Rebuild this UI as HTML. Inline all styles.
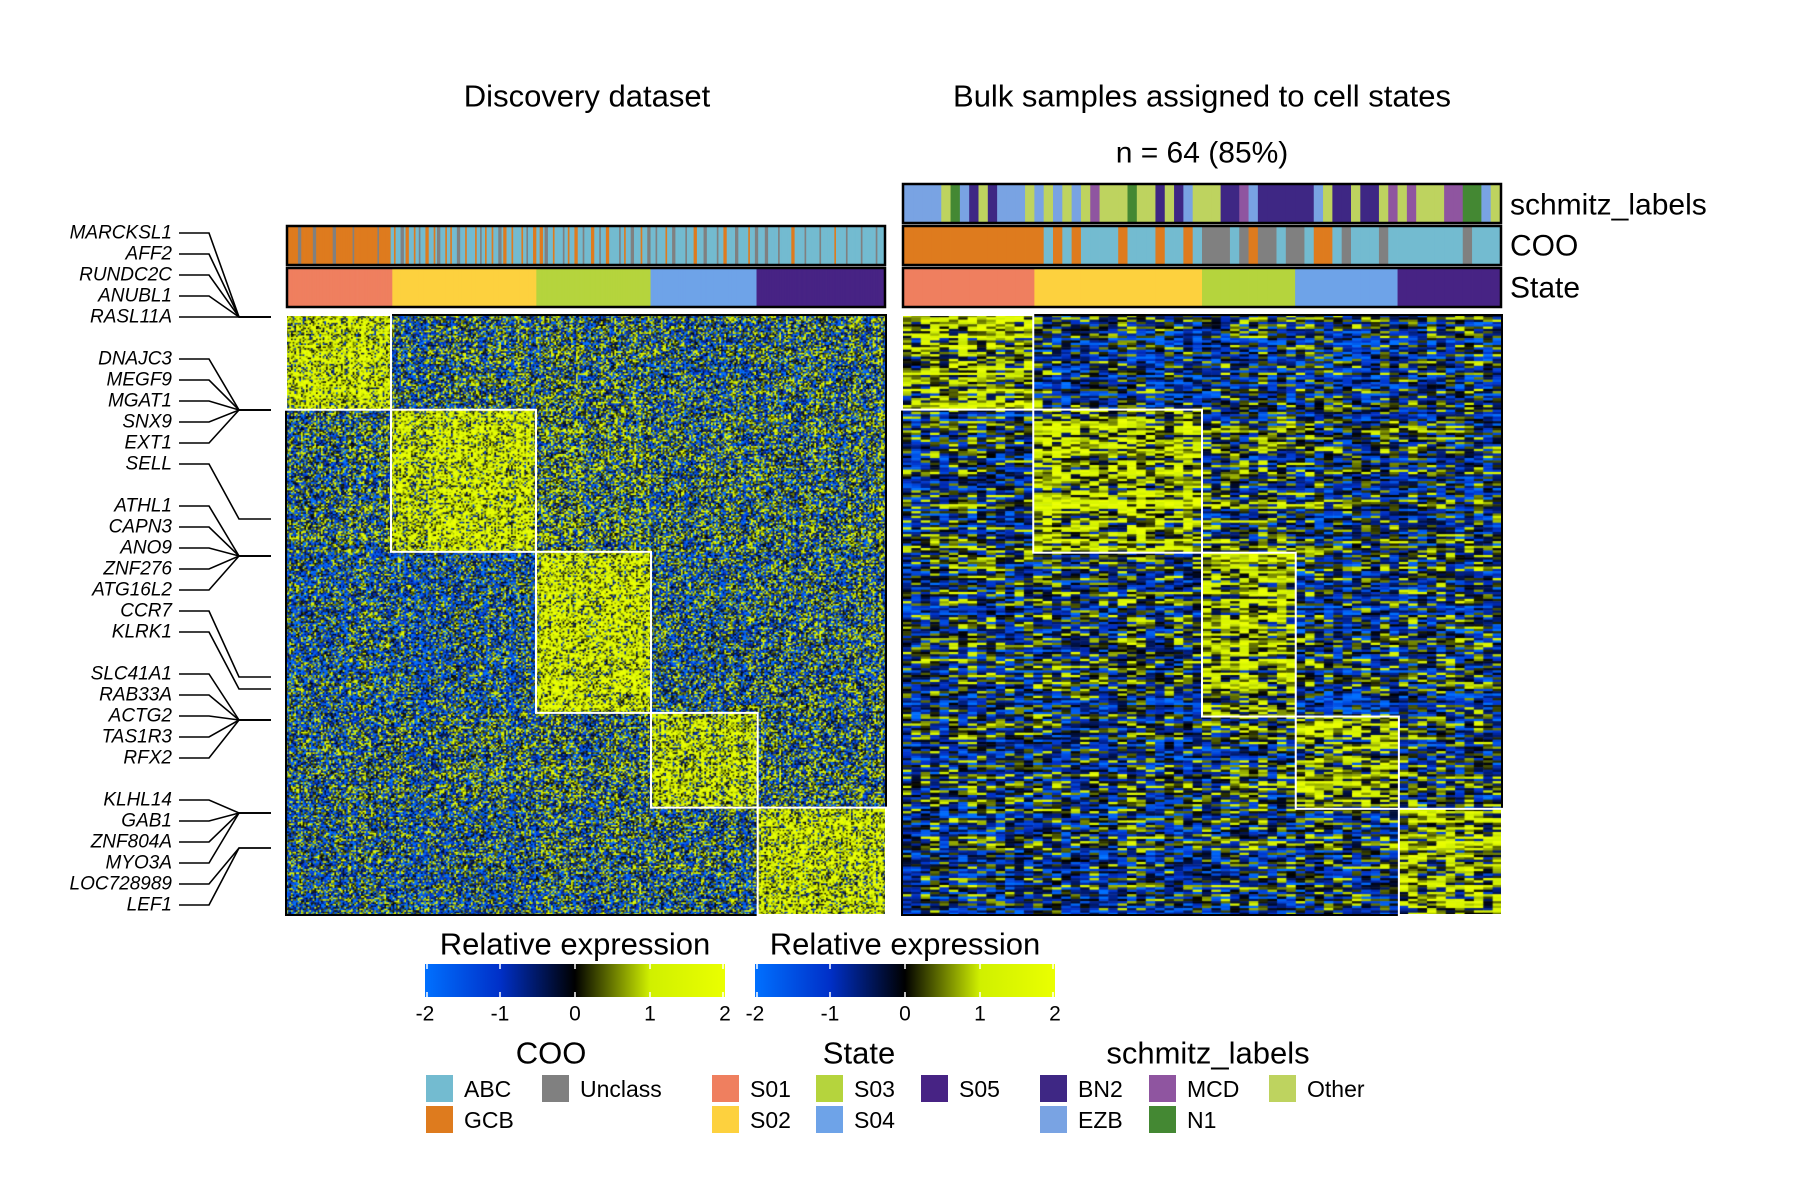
<!DOCTYPE html>
<html><head><meta charset="utf-8">
<style>
html,body{margin:0;padding:0;background:#fff;}
#root{position:relative;width:1800px;height:1200px;overflow:hidden;font-family:"Liberation Sans",sans-serif;}
canvas{position:absolute;}
svg{position:absolute;left:0;top:0;}
</style></head>
<body>
<div id="root">
<canvas id="hmL" style="left:286px;top:315px" width="600" height="600"></canvas>
<canvas id="hmR" style="left:902px;top:315px" width="600" height="600"></canvas>
<svg id="ov" width="1800" height="1200"></svg>
</div>
<script>
// ---------- data ----------
const stateNames = ['S01','S02','S03','S04','S05'];
const stateColors = ['#ef7f5f','#fdd13e','#b5d43d','#6ea3e8','#472384'];
const cooColors = {A:'#73bbd0',G:'#de7b1e',U:'#808080'};
const schColors = {B:'#3e2784',E:'#79a3e3',M:'#8f55a0',N:'#448833',O:'#bed35f'};
// left (discovery)
const leftStateCounts = [63,87,69,64,77];
const leftRowCounts = [60,90,102,60,68];
const leftCOO = 'GGGGUGGGGGUGGGGGGGUGGGGGGGUGGGGGGGGGUGGGGG'+
 'AGAAUAGAAGAUAAGAAGAUAAGAGAAUAAGAAAGAUAGAAGAAUAGAAGAAAGAUAAG'+
 'AAGAUAAGAAAUAGAAGAAUAAAGAAUAAGAAAAUAGAAUAAAGAAU'+
 'AAUAAAGAAUAAAAUAAAGAAAUAAAAUAAGAAAAUAAAAGAAUA'+
 'AAUAAAAUAAAAAGAAAAUAAAAAUAAAAAGAAAAUAAAAAUAAAAAUAAA';
const leftMeans = [
 [1.3,-0.3,-0.2,-0.4,-0.3],
 [-0.2,1.3,0.0,-0.2,-0.2],
 [-0.5,-0.6,1.4,-0.4,-0.3],
 [-0.3,-0.2,-0.2,1.1,-0.2],
 [-0.4,-0.5,-0.3,-0.3,1.2]];
// right (bulk)
const rightStateCounts = [14,18,10,11,11];
const rightRowCounts = [41,62,71,40,46];
const rightCOO = 'GGGGGGGGGGGGGGGAGAGAAAAGAAAGAAGAUUUAUGUUAUUAGGAUAAAUAAAAAAAAUAAA';
const rightSchmitz = 'EEEEONEBOBEEEOEOEOEOMOOONOOBOBEOOOBBMEBBBBBBEOBBOBBOMOMOOOMMNNEO';
const rightMeans = [
 [0.7,-0.5,-0.4,-0.5,-0.4],
 [-0.4,0.7,-0.1,-0.4,-0.4],
 [-0.4,-0.3,0.7,-0.5,-0.4],
 [-0.3,-0.4,-0.2,0.6,-0.3],
 [-0.4,-0.4,-0.3,-0.3,0.7]];
const genes = ['MARCKSL1','AFF2','RUNDC2C','ANUBL1','RASL11A','DNAJC3','MEGF9','MGAT1','SNX9','EXT1','SELL','ATHL1','CAPN3','ANO9','ZNF276','ATG16L2','CCR7','KLRK1','SLC41A1','RAB33A','ACTG2','TAS1R3','RFX2','KLHL14','GAB1','ZNF804A','MYO3A','LOC728989','LEF1'];
const geneSlots = [0,1,2,3,4,6,7,8,9,10,11,13,14,15,16,17,18,19,21,22,23,24,25,27,28,29,30,31,32];
const geneTargets = [317,317,317,317,317,410,410,410,410,410,519,556,556,556,556,556,677,689,720,720,720,720,720,813,813,813,813,848,848];
const colorTicks = [-2,-1,0,1,2];

// ---------- helpers ----------
const NS='http://www.w3.org/2000/svg';
const ov=document.getElementById('ov');
function mk(tag,attrs,parent){const e=document.createElementNS(NS,tag);for(const k in attrs)e.setAttribute(k,attrs[k]);(parent||ov).appendChild(e);return e;}
const stops=[[-2,[0,112,255]],[-1,[0,48,200]],[0,[0,0,0]],[1,[208,240,0]],[2,[234,255,0]]];
function cmap(v){v=Math.max(-2,Math.min(2,v));for(let i=0;i<4;i++){const a=stops[i],b=stops[i+1];if(v<=b[0]){const t=(v-a[0]);return 'rgb('+a[1].map((c,j)=>Math.round(c+(b[1][j]-c)*t)).join(',')+')';}}return 'rgb(234,255,0)';}
function h(a,b,s){let x=(a*374761393+b*668265263+s*982451653)|0;x=(x^(x>>>13))*1274126177|0;x=x^(x>>>16);return ((x>>>0)%10000)/10000;}
function expand(counts){const r=[];counts.forEach((c,i)=>{for(let k=0;k<c;k++)r.push(i);});return r;}
function scaleBand(n,x0,x1){const w=(x1-x0)/n;return i=>x0+i*w;}

function drawHeat(id,stateCounts,rowCounts,means,seed,noise,colAmp,rowAmp){
  const cv=document.getElementById(id),ctx=cv.getContext('2d');
  const cols=expand(stateCounts),rows=expand(rowCounts);
  const nc=cols.length,nr=rows.length;
  const xs=scaleBand(nc,0,600),ys=scaleBand(nr,0,600);
  const cw=600/nc,rh=600/nr;
  for(let r=0;r<nr;r++){
    const rowEff=(h(r,7,seed)-0.5)*rowAmp;
    for(let c=0;c<nc;c++){
      const colEff=(h(c,3,seed+1)-0.5)*colAmp;
      const n=(h(r,c,seed)+h(c,r,seed+5)-1)*noise;
      const v=means[rows[r]][cols[c]]+n+colEff+rowEff;
      ctx.fillStyle=cmap(v);
      ctx.fillRect(xs(c),ys(r),cw+0.5,rh+0.5);
    }
  }
}
drawHeat('hmL',leftStateCounts,leftRowCounts,leftMeans,11,3.0,1.0,0.8);
drawHeat('hmR',rightStateCounts,rightRowCounts,rightMeans,29,2.0,0.4,1.4);

// block outlines + borders
function blocks(x0,stateCounts,rowCounts,name){
  const g=mk('g',{});
  const nc=stateCounts.reduce((a,b)=>a+b),nr=rowCounts.reduce((a,b)=>a+b);
  mk('rect',{x:x0,y:315,width:600,height:600,fill:'none',stroke:'#000','stroke-width':2},g);
  let cx=0,cy=0;
  for(let i=0;i<5;i++){
    const bx=x0+cx/nc*600,by=315+cy/nr*600,bw=stateCounts[i]/nc*600,bh=rowCounts[i]/nr*600;
    mk('rect',{x:bx,y:by,width:bw,height:bh,fill:'none',stroke:'#fff','stroke-width':2},g);
    cx+=stateCounts[i];cy+=rowCounts[i];
  }
}
blocks(286,leftStateCounts,leftRowCounts,'discovery-block-outlines');
blocks(902,rightStateCounts,rightRowCounts,'bulk-block-outlines');

// annotation bars
function annBar(x0,y0,hgt,vals,colorFn,name){
  const g=mk('g',{});
  const n=vals.length,xs=scaleBand(n,x0+2,x0+598),w=596/n;
  for(let i=0;i<n;i++)mk('rect',{x:xs(i),y:y0,width:w+0.4,height:hgt,fill:colorFn(vals[i])},g);
  mk('rect',{x:x0+1,y:y0-1,width:598,height:hgt+2,fill:'none',stroke:'#000','stroke-width':2.5},g);
}
const nL=leftStateCounts.reduce((a,b)=>a+b);
const lcoo=[];for(let i=0;i<nL;i++)lcoo.push(leftCOO[Math.floor(i*leftCOO.length/nL)]);
annBar(286,227,37,lcoo,v=>cooColors[v],'discovery-coo-bar');
annBar(286,269,37,expand(leftStateCounts),v=>stateColors[v],'discovery-state-bar');
annBar(902,185,37,rightSchmitz.split(''),v=>schColors[v],'bulk-schmitz-bar');
annBar(902,227,37,rightCOO.split(''),v=>cooColors[v],'bulk-coo-bar');
annBar(902,269,37,expand(rightStateCounts),v=>stateColors[v],'bulk-state-bar');

function txt(x,y,s,size,anchor,name,extra){const t=mk('text',Object.assign({x:x,y:y,'font-size':size,'text-anchor':anchor||'start','font-family':'Liberation Sans, sans-serif','dominant-baseline':'central',},extra||{}));t.textContent=s;return t;}
txt(587,96,'Discovery dataset',31,'middle','discovery-title');
txt(1202,96,'Bulk samples assigned to cell states',31,'middle','bulk-title');
txt(1202,153,'n = 64 (85%)',30,'middle','bulk-subtitle');
txt(1510,205,'schmitz_labels',30,'start','schmitz-bar-label');
txt(1510,246,'COO',30,'start','coo-bar-label');
txt(1510,288,'State',30,'start','state-bar-label');

// gene labels
const gl=mk('g',{});
genes.forEach((gname,i)=>{
  const y=233+21*geneSlots[i],ty=geneTargets[i];
  const t=txt(172,y,gname,19,'end','gene-label',{'font-style':'italic'});
  gl.appendChild(t);
  mk('polyline',{points:`179,${y} 209,${y} 239,${ty} 271,${ty}`,fill:'none',stroke:'#000','stroke-width':1.6},gl);
});

// colorbars
const defs=mk('defs',{});
const lg=mk('linearGradient',{id:'cg',x1:0,x2:1,y1:0,y2:0},defs);
stops.forEach(s=>mk('stop',{offset:((s[0]+2)/4),'stop-color':'rgb('+s[1].join(',')+')'},lg));
function colorbar(x0,name){
  const g=mk('g',{});
  const w=300,cx=v=>x0+(v+2)/4*w;
  const t=txt(x0+w/2,944,'Relative expression',31,'middle','colorbar-title');g.appendChild(t);
  mk('rect',{x:x0,y:964,width:w,height:33,fill:'url(#cg)'},g);
  colorTicks.forEach(v=>{
    const x=Math.min(Math.max(cx(v),x0+2),x0+w-2);
    mk('line',{x1:x,x2:x,y1:964,y2:969,stroke:'#fff','stroke-width':1.5},g);
    mk('line',{x1:x,x2:x,y1:992,y2:997,stroke:'#fff','stroke-width':1.5},g);
    g.appendChild(txt(cx(v),1014,String(v),21,'middle','colorbar-tick'));
  });
}
colorbar(425,'colorbar-discovery');
colorbar(755,'colorbar-bulk');

// legends
function legend(title,tx,items,name){
  const g=mk('g',{});
  g.appendChild(txt(tx,1053,title,31,'middle','legend-title'));
  items.forEach(it=>{
    const e=mk('g',{},g);
    mk('rect',{x:it[0],y:it[1],width:27,height:27,fill:it[3]},e);
    e.appendChild(txt(it[0]+38,it[1]+14,it[2],23,'start','legend-label'));
  });
}
legend('COO',551,[[426,1075,'ABC',cooColors.A],[426,1106,'GCB',cooColors.G],[542,1075,'Unclass',cooColors.U]],'legend-coo');
legend('State',859,[[712,1075,'S01',stateColors[0]],[712,1106,'S02',stateColors[1]],[816,1075,'S03',stateColors[2]],[816,1106,'S04',stateColors[3]],[921,1075,'S05',stateColors[4]]],'legend-state');
legend('schmitz_labels',1208,[[1040,1075,'BN2',schColors.B],[1040,1106,'EZB',schColors.E],[1149,1075,'MCD',schColors.M],[1149,1106,'N1',schColors.N],[1269,1075,'Other',schColors.O]],'legend-schmitz');
</script>
</body></html>
